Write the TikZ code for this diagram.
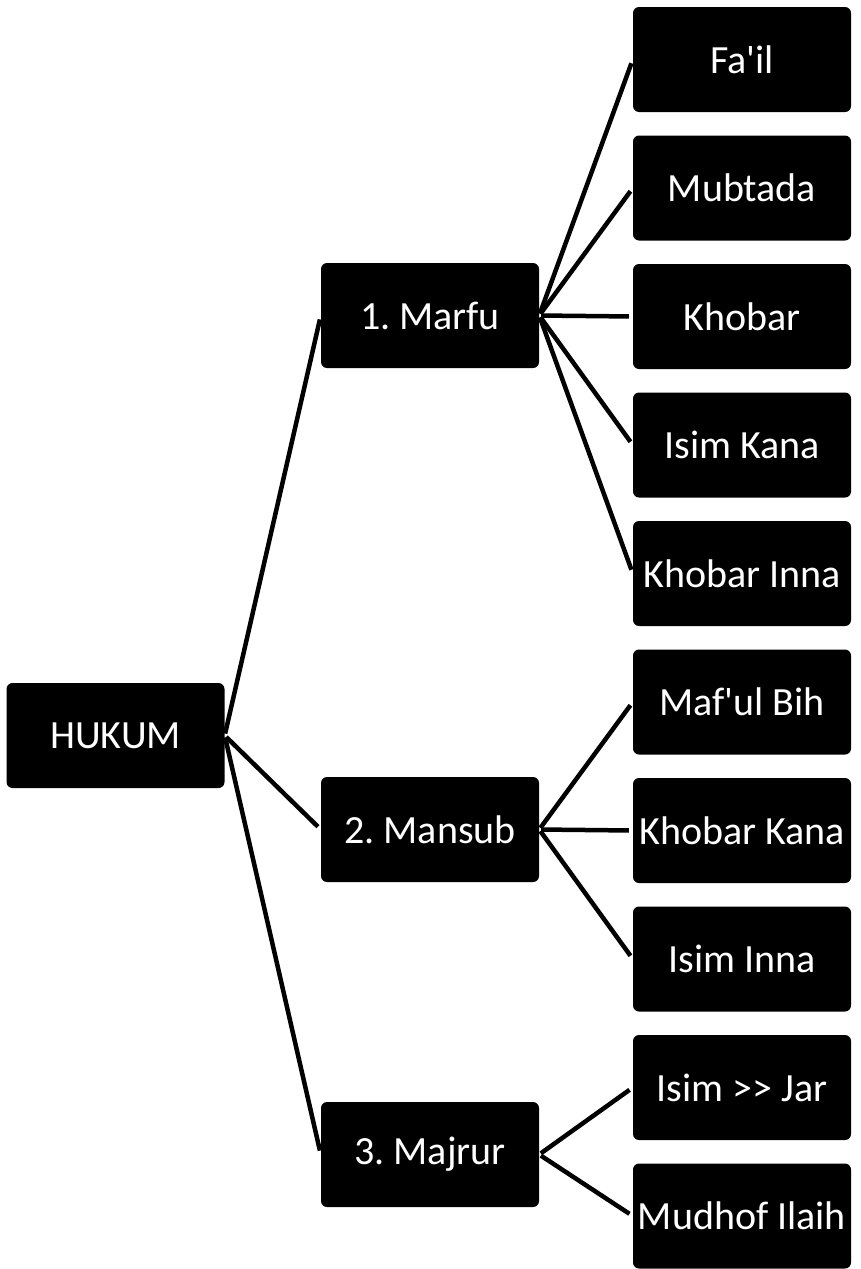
\documentclass[tikz,border=0pt]{standalone}
\usepackage{fontspec}
\newfontfamily\cf{Carlito}
\frenchspacing
\begin{document}
\begin{tikzpicture}[x=1pt,y=-1pt,
  box/.style={draw=none,fill=black,text=white,rounded corners=6pt,
    minimum width=218pt,minimum height=105pt,inner sep=0pt,
    font=\cf\fontsize{40}{46}\selectfont},
  link/.style={line width=4.5pt,black,shorten >=4pt,shorten <=2pt}]
\useasboundingbox (0,0) rectangle (860,1269);
\node[box] (h) at (115.5,735.5) {HUKUM};
\node[box] (m1) at (430,315.5) {1. Marfu};
\node[box] (m2) at (430,829.5) {2. Mansub};
\node[box] (m3) at (430,1154.5) {3. Majrur};
\node[box] (a1) at (742,59.5) {Fa'il};
\node[box] (a2) at (742,188) {Mubtada};
\node[box] (a3) at (742,316.5) {Khobar};
\node[box] (a4) at (742,445) {Isim Kana};
\node[box] (a5) at (742,573.5) {Khobar Inna};
\node[box] (b1) at (742,702) {Maf'ul Bih};
\node[box] (b2) at (742,830.5) {Khobar Kana};
\node[box] (b3) at (742,959) {Isim Inna};
\node[box] (c1) at (742,1087.5) {Isim >> Jar};
\node[box] (c2) at (742,1216) {Mudhof Ilaih};
\foreach \c in {m1,m2,m3} \draw[link] (h.east) -- (\c.west);
\foreach \c in {a1,a2,a3,a4,a5} \draw[link] (m1.east) -- (\c.west);
\foreach \c in {b1,b2,b3} \draw[link] (m2.east) -- (\c.west);
\foreach \c in {c1,c2} \draw[link] (m3.east) -- (\c.west);
\end{tikzpicture}
\end{document}
